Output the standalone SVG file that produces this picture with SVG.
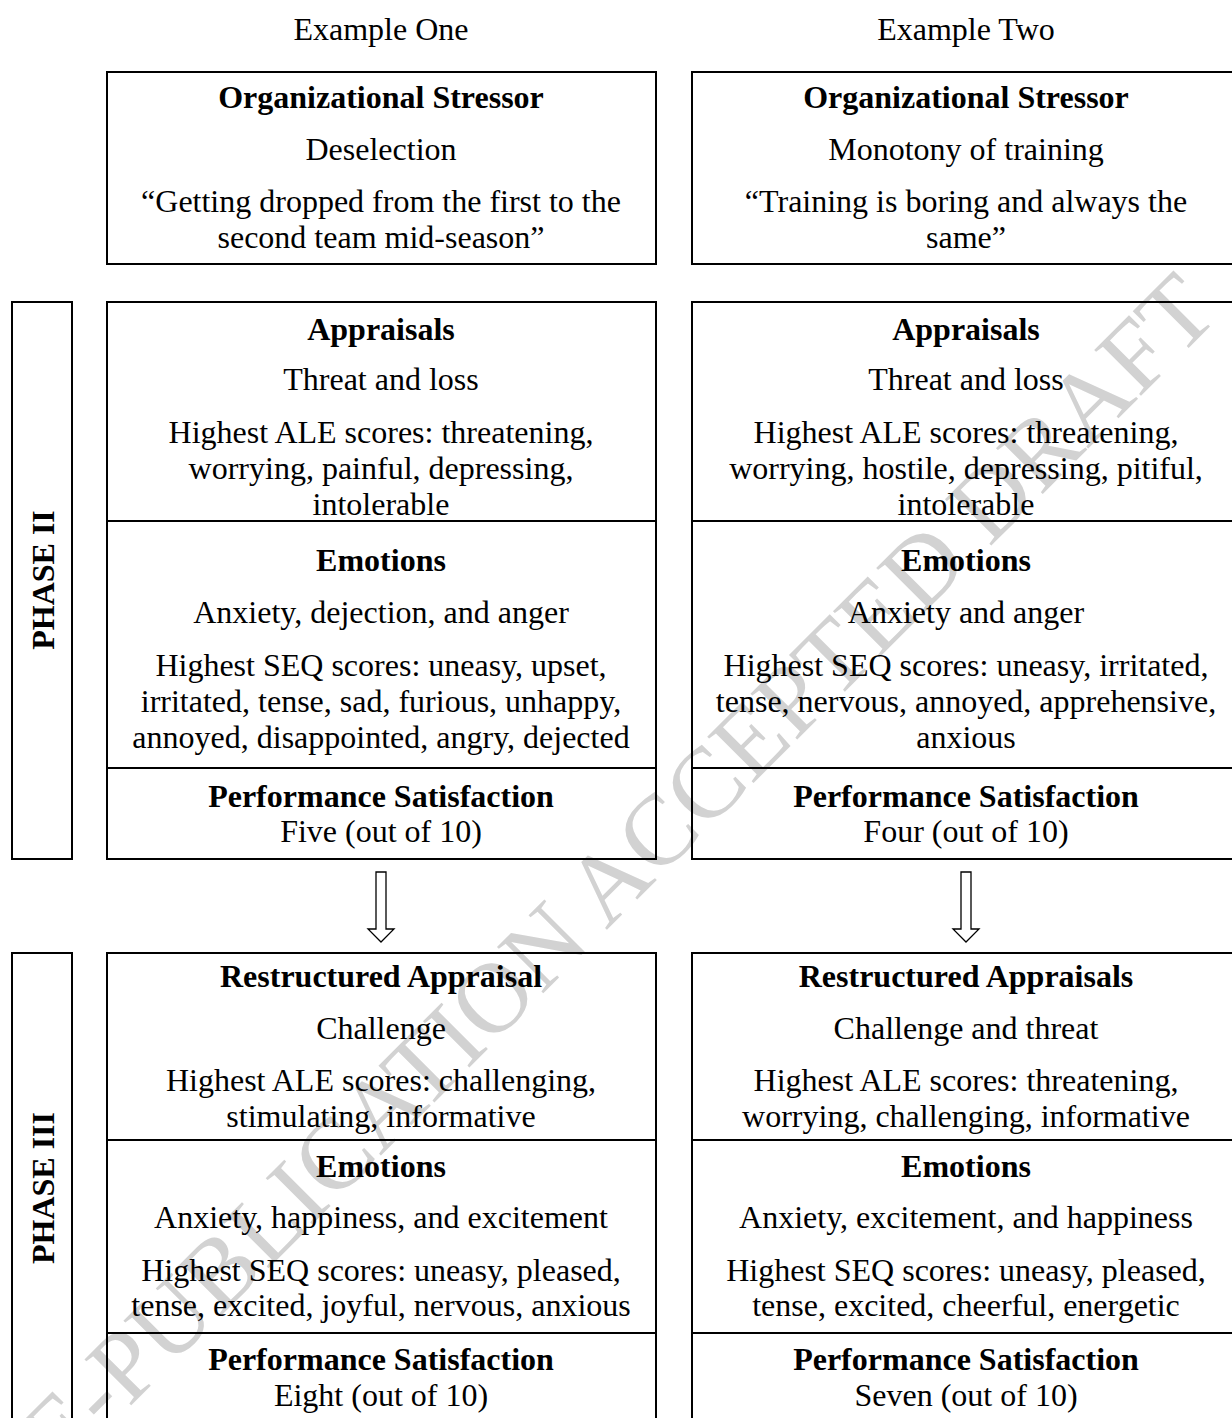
<svg xmlns="http://www.w3.org/2000/svg" width="1232" height="1418" viewBox="0 0 1232 1418">
<style>
.t{font-family:"Liberation Serif","Times New Roman",serif;font-size:32px;text-anchor:middle;fill:#000}
.b{font-weight:bold}
.box{fill:none;stroke:#000;stroke-width:2}
.div{stroke:#000;stroke-width:2}
.arr{fill:#fff;stroke:#000;stroke-width:1.3;stroke-linejoin:miter}
.wm{font-family:"Liberation Serif","Times New Roman",serif;font-size:100px;text-anchor:middle;fill:#d2d2d2}
</style>
<rect width="1232" height="1418" fill="#fff"/>
<text class="wm" transform="translate(575,915) rotate(-45)" y="33">PRE-PUBLICATION ACCEPTED DRAFT</text>

<text class="t" x="381" y="40">Example One</text>
<text class="t" x="966" y="40">Example Two</text>

<g id="stressor1">
<rect class="box" x="107" y="72" width="549" height="192"/>
<text class="t b" x="381" y="108">Organizational Stressor</text>
<text class="t" x="381" y="160">Deselection</text>
<text class="t" x="381" y="212">“Getting dropped from the first to the</text>
<text class="t" x="381" y="248">second team mid-season”</text>
</g>
<g id="stressor2">
<rect class="box" x="692" y="72" width="560" height="192"/>
<text class="t b" x="966" y="108">Organizational Stressor</text>
<text class="t" x="966" y="160">Monotony of training</text>
<text class="t" x="966" y="212">“Training is boring and always the</text>
<text class="t" x="966" y="248">same”</text>
</g>

<g id="phase2label">
<rect class="box" x="12" y="302" width="60" height="557"/>
<text class="t b" transform="translate(54,580) rotate(-90)">PHASE II</text>
</g>

<g id="phase2ex1">
<rect class="box" x="107" y="302" width="549" height="557"/>
<line class="div" x1="107" y1="521" x2="656" y2="521"/>
<line class="div" x1="107" y1="768" x2="656" y2="768"/>
<text class="t b" x="381" y="340">Appraisals</text>
<text class="t" x="381" y="390">Threat and loss</text>
<text class="t" x="381" y="443">Highest ALE scores: threatening,</text>
<text class="t" x="381" y="479">worrying, painful, depressing,</text>
<text class="t" x="381" y="515">intolerable</text>
<text class="t b" x="381" y="571">Emotions</text>
<text class="t" x="381" y="623">Anxiety, dejection, and anger</text>
<text class="t" x="381" y="676">Highest SEQ scores: uneasy, upset,</text>
<text class="t" x="381" y="712">irritated, tense, sad, furious, unhappy,</text>
<text class="t" x="381" y="748">annoyed, disappointed, angry, dejected</text>
<text class="t b" x="381" y="807">Performance Satisfaction</text>
<text class="t" x="381" y="842">Five (out of 10)</text>
</g>

<g id="phase2ex2">
<rect class="box" x="692" y="302" width="560" height="557"/>
<line class="div" x1="692" y1="521" x2="1232" y2="521"/>
<line class="div" x1="692" y1="768" x2="1232" y2="768"/>
<text class="t b" x="966" y="340">Appraisals</text>
<text class="t" x="966" y="390">Threat and loss</text>
<text class="t" x="966" y="443">Highest ALE scores: threatening,</text>
<text class="t" x="966" y="479">worrying, hostile, depressing, pitiful,</text>
<text class="t" x="966" y="515">intolerable</text>
<text class="t b" x="966" y="571">Emotions</text>
<text class="t" x="966" y="623">Anxiety and anger</text>
<text class="t" x="966" y="676">Highest SEQ scores: uneasy, irritated,</text>
<text class="t" x="966" y="712">tense, nervous, annoyed, apprehensive,</text>
<text class="t" x="966" y="748">anxious</text>
<text class="t b" x="966" y="807">Performance Satisfaction</text>
<text class="t" x="966" y="842">Four (out of 10)</text>
</g>

<g id="connectors">
<polygon class="arr" points="376,872 386,872 386,929 394,929 381,942 368,929 376,929"/>
<polygon class="arr" points="961,872 971,872 971,929 979,929 966,942 953,929 961,929"/>
</g>

<g id="phase3label">
<rect class="box" x="12" y="953" width="60" height="480"/>
<text class="t b" transform="translate(54,1188) rotate(-90)">PHASE III</text>
</g>

<g id="phase3ex1">
<rect class="box" x="107" y="953" width="549" height="480"/>
<line class="div" x1="107" y1="1140" x2="656" y2="1140"/>
<line class="div" x1="107" y1="1333" x2="656" y2="1333"/>
<text class="t b" x="381" y="987">Restructured Appraisal</text>
<text class="t" x="381" y="1039">Challenge</text>
<text class="t" x="381" y="1091">Highest ALE scores: challenging,</text>
<text class="t" x="381" y="1127">stimulating, informative</text>
<text class="t b" x="381" y="1177">Emotions</text>
<text class="t" x="381" y="1228">Anxiety, happiness, and excitement</text>
<text class="t" x="381" y="1281">Highest SEQ scores: uneasy, pleased,</text>
<text class="t" x="381" y="1316">tense, excited, joyful, nervous, anxious</text>
<text class="t b" x="381" y="1370">Performance Satisfaction</text>
<text class="t" x="381" y="1406">Eight (out of 10)</text>
</g>

<g id="phase3ex2">
<rect class="box" x="692" y="953" width="560" height="480"/>
<line class="div" x1="692" y1="1140" x2="1232" y2="1140"/>
<line class="div" x1="692" y1="1333" x2="1232" y2="1333"/>
<text class="t b" x="966" y="987">Restructured Appraisals</text>
<text class="t" x="966" y="1039">Challenge and threat</text>
<text class="t" x="966" y="1091">Highest ALE scores: threatening,</text>
<text class="t" x="966" y="1127">worrying, challenging, informative</text>
<text class="t b" x="966" y="1177">Emotions</text>
<text class="t" x="966" y="1228">Anxiety, excitement, and happiness</text>
<text class="t" x="966" y="1281">Highest SEQ scores: uneasy, pleased,</text>
<text class="t" x="966" y="1316">tense, excited, cheerful, energetic</text>
<text class="t b" x="966" y="1370">Performance Satisfaction</text>
<text class="t" x="966" y="1406">Seven (out of 10)</text>
</g>
</svg>
